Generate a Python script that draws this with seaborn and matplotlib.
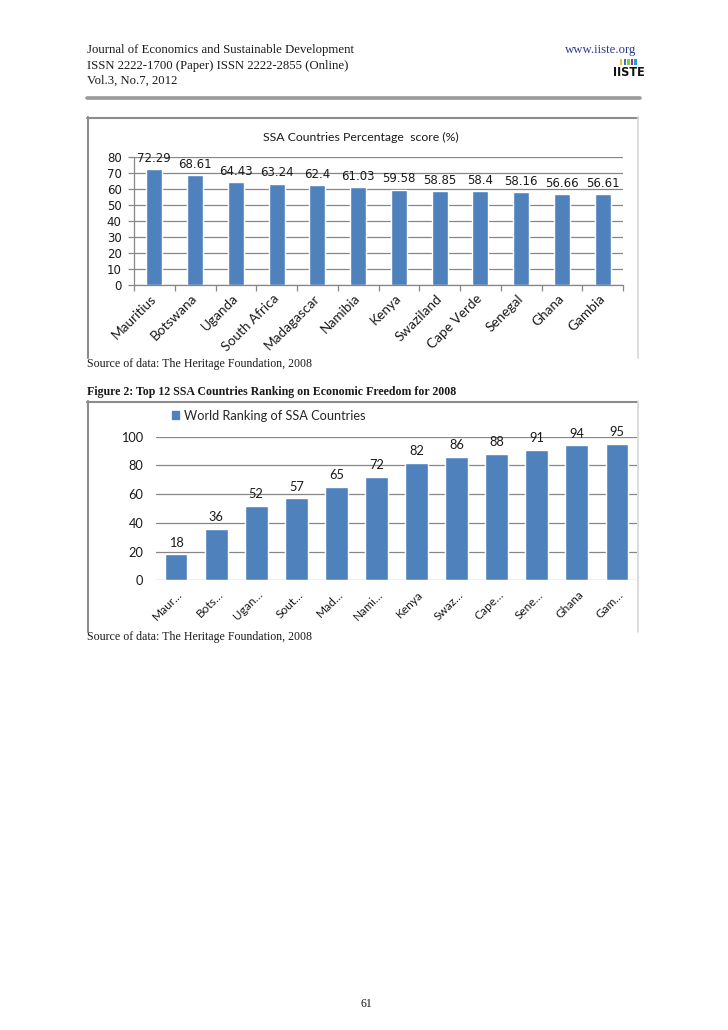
import matplotlib
matplotlib.use("Agg")
import matplotlib.pyplot as plt
import matplotlib.transforms as mtransforms
import seaborn as sns
from matplotlib.lines import Line2D
from matplotlib.patches import Rectangle

# ---------------- data ----------------
countries = ["Mauritius", "Botswana", "Uganda", "South Africa", "Madagascar", "Namibia",
             "Kenya", "Swaziland", "Cape Verde", "Senegal", "Ghana", "Gambia"]
scores = [72.29, 68.61, 64.43, 63.24, 62.4, 61.03, 59.58, 58.85, 58.4, 58.16, 56.66, 56.61]
world_rank = [18, 36, 52, 57, 65, 72, 82, 86, 88, 91, 94, 95]
rank_labels = ["Maur…", "Bots…", "Ugan…", "Sout…", "Mad…", "Nami…",
               "Kenya", "Swaz…", "Cape…", "Sene…", "Ghana", "Gam…"]
score_ticks = [0, 10, 20, 30, 40, 50, 60, 70, 80]
rank_ticks = [0, 20, 40, 60, 80, 100]

chart1_title = "SSA Countries Percentage  score (%)"
legend2_label = "World Ranking of SSA Countries"
header_lines = ["Journal of Economics and Sustainable Development",
                "ISSN 2222-1700 (Paper) ISSN 2222-2855 (Online)",
                "Vol.3, No.7, 2012"]
source_text = "Source of data: The Heritage Foundation, 2008"
caption2 = "Figure 2: Top 12 SSA Countries Ranking on Economic Freedom for 2008"

# ---------------- style ----------------
sns.set_theme(style="white")
plt.rcParams["font.family"] = ["DejaVu Sans"]

BLUE = "#4F81BD"
GRID = "#868686"
FRAME = "#8c8c8c"
TXT = "#1a1a1a"
SERIF = "Liberation Serif"
CAL = "Lato"

W, H = 728, 1030
fig = plt.figure(figsize=(W / 100, H / 100), dpi=100)
fig.patch.set_facecolor("white")


def fx(px):
    return px / W


def fy(py):
    return 1 - py / H


def fline(x0, y0, x1, y1, color=FRAME, lw=1.5):
    fig.add_artist(Line2D([fx(x0), fx(x1)], [fy(y0), fy(y1)],
                          transform=fig.transFigure, color=color, lw=lw))


# ---------------- header ----------------
for i, t in enumerate(header_lines):
    fig.text(fx(87), fy(50.5 + i * 15.2), t, family=SERIF, fontsize=9.2,
             color=TXT, va="center", ha="left")
fig.text(fx(636), fy(50.5), "www.iiste.org", family=SERIF, fontsize=9.2,
         color="#2b3990", va="center", ha="right")
logo_cols = ["#f2c12e", "#3b73b9", "#8cc63f", "#7f3f98", "#2e9bd6"]
for k, c in enumerate(logo_cols):
    fig.add_artist(Rectangle((fx(620 + k * 3.6), fy(65)), 2.4 / W, 5.5 / H,
                             transform=fig.transFigure, color=c, lw=0))
fig.text(fx(629), fy(72), "IISTE", family="DejaVu Sans", fontsize=9,
         fontweight="bold", fontstretch="condensed", color="#111111",
         va="center", ha="center")
fline(87, 97.5, 640, 97.5, color="#9a9a9a", lw=2.6)

# ---------------- chart 1 ----------------
fline(87.5, 117, 87.5, 358)
fline(87, 117.5, 638, 117.5)
fline(638, 117, 638, 358, color="#d6d6d6", lw=1.2)

ax1 = fig.add_axes([fx(134), fy(285.3), (623 - 134) / W, 128.6 / H])
sns.barplot(x=countries, y=scores, color=BLUE, saturation=1, width=0.39, ax=ax1)
ax1.set_xlim(-0.5, len(countries) - 0.5)
ax1.set_ylim(0, 80)
ax1.set_yticks(score_ticks)
ax1.set_yticklabels([str(v) for v in score_ticks], fontsize=8.5, color=TXT)
ax1.yaxis.grid(True, color=GRID, lw=0.9)
ax1.set_axisbelow(True)
for s in ["top", "right"]:
    ax1.spines[s].set_visible(False)
for s in ["left", "bottom"]:
    ax1.spines[s].set_visible(True)
    ax1.spines[s].set_color(GRID)
    ax1.spines[s].set_linewidth(0.9)
ax1.tick_params(axis="y", left=True, length=4, width=0.9, color=GRID, pad=5)
ax1.set_xticks(range(len(countries)))
ax1.set_xticklabels(countries, rotation=45, ha="right", va="center",
                    rotation_mode="anchor", family=CAL, fontsize=9.8, color=TXT)
ax1.tick_params(axis="x", which="major", bottom=False, length=0, pad=8)
ax1.set_xticks([i - 0.5 for i in range(len(countries) + 1)], minor=True)
ax1.tick_params(axis="x", which="minor", bottom=True, length=4, width=0.9, color=GRID)
ax1.set_xlabel("")
ax1.set_ylabel("")
ax1.bar_label(ax1.containers[0], fmt="{:g}", padding=3, fontsize=8.5, color=TXT,
              clip_on=False)
fig.text(fx(361), fy(137), chart1_title, family=CAL, fontsize=8.8, color=TXT,
         ha="center", va="center")

fig.text(fx(87), fy(364), source_text, family=SERIF, fontsize=8.6, color=TXT,
         ha="left", va="center")
fig.text(fx(87), fy(392.5), caption2, family=SERIF, fontsize=8.6, color=TXT,
         ha="left", va="center", fontweight="bold")

# ---------------- chart 2 ----------------
fline(87.5, 401, 87.5, 632)
fline(87, 401.5, 637, 401.5)
fline(638, 401, 638, 632, color="#d6d6d6", lw=1.2)

ax2 = fig.add_axes([fx(156), fy(580.3), (637 - 156) / W, 143.6 / H])
sns.barplot(x=rank_labels, y=world_rank, color=BLUE, saturation=1, width=0.57, ax=ax2)
ax2.set_xlim(-0.5, len(rank_labels) - 0.5)
ax2.set_ylim(0, 100)
ax2.set_yticks(rank_ticks)
ax2.set_yticklabels([str(v) for v in rank_ticks], family=CAL, fontsize=9.2, color=TXT)
ax2.yaxis.grid(True, color=GRID, lw=0.9)
ax2.set_axisbelow(True)
for s in ["top", "right", "left", "bottom"]:
    ax2.spines[s].set_visible(False)
ax2.tick_params(axis="y", left=False, length=0, pad=9)
ax2.set_xticks(range(len(rank_labels)))
ax2.set_xticklabels(rank_labels, rotation=45, ha="right", va="center",
                    rotation_mode="anchor", family=CAL, fontsize=8.6, color=TXT)
ax2.tick_params(axis="x", bottom=False, length=0, pad=9)
shift = mtransforms.ScaledTranslation(5 / 100, 0, fig.dpi_scale_trans)
for lab in ax2.get_xticklabels():
    lab.set_transform(lab.get_transform() + shift)
ax2.set_xlabel("")
ax2.set_ylabel("")
ax2.bar_label(ax2.containers[0], fmt="{:g}", padding=4, family=CAL, fontsize=9.2,
              color=TXT, clip_on=False)
ax2.legend(handles=[Rectangle((0, 0), 1, 1, color=BLUE)], labels=[legend2_label],
           loc="center left", bbox_to_anchor=(fx(167), fy(415.5)),
           bbox_transform=fig.transFigure, frameon=False, handlelength=0.55,
           handleheight=0.55, handletextpad=0.4, borderaxespad=0,
           prop={"family": CAL, "size": 9.2})

fig.text(fx(87), fy(637), source_text, family=SERIF, fontsize=8.6, color=TXT,
         ha="left", va="center")

# ---------------- page number ----------------
fig.text(fx(366), fy(1004), "61", family=SERIF, fontsize=8.6, color=TXT,
         ha="center", va="center")

fig.savefig("out.png", dpi=100, facecolor="white")
